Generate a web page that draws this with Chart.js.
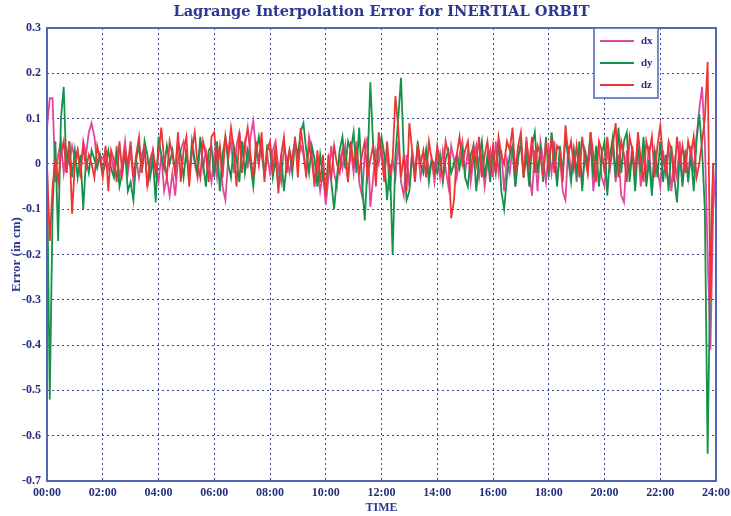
<!DOCTYPE html>
<html>
<head>
<meta charset="utf-8">
<script src="https://cdn.jsdelivr.net/npm/chart.js@4.4.1/dist/chart.umd.min.js"></script>
<style>
  html, body { margin: 0; padding: 0; background: #ffffff; }
  #wrap { width: 731px; height: 516px; }
</style>
</head>
<body>
<div id="wrap"><canvas id="c" width="731" height="516"></canvas></div>
<script>
// ---------------- data (values in cm, sampled every 0.1 h from 00:00 to 24:00) ----------------
const titleText = 'Lagrange Interpolation Error for INERTIAL ORBIT';
const seriesNames = ['dx', 'dy', 'dz'];
const xTickHours = [0, 2, 4, 6, 8, 10, 12, 14, 16, 18, 20, 22, 24];
const yTickValues = [0.3, 0.2, 0.1, 0, -0.1, -0.2, -0.3, -0.4, -0.5, -0.6, -0.7];

const timeHours = [];
for (let i = 0; i <= 240; i++) timeHours.push(i / 10);

const dxValues = [
  0.08, 0.145, 0.145, -0.04, 0.02, 0.05, -0.02, 0.03, 0.00, 0.04,
  0.01, 0.03, -0.03, 0.05, 0.02, 0.07, 0.09, 0.06, 0.00, 0.02,
  0.01, 0.03, -0.01, 0.02, -0.02, 0.04, -0.03, 0.00, 0.05, -0.02,
  0.03, -0.04, 0.01, -0.03, 0.02, 0.04, -0.05, -0.02, 0.03, -0.01,
  -0.04, 0.02, -0.06, -0.03, -0.07, -0.02, -0.07, 0.01, 0.03, 0.05,
  0.02, -0.02, 0.04, 0.00, -0.03, 0.05, -0.01, 0.03, 0.00, -0.04,
  0.02, -0.03, 0.04, -0.05, -0.08, 0.01, 0.05, -0.02, 0.04, 0.07,
  0.02, 0.05, -0.01, 0.06, 0.095, 0.03, 0.00, 0.05, -0.03, 0.02,
  -0.02, 0.03, 0.05, -0.01, -0.04, 0.04, 0.01, -0.02, 0.02, 0.05,
  0.00, 0.04, 0.02, -0.03, 0.06, 0.03, -0.04, -0.01, -0.06, -0.02,
  -0.09, -0.03, 0.04, -0.02, -0.05, 0.02, -0.01, 0.04, -0.03, 0.03,
  -0.02, 0.05, -0.04, -0.07, 0.02, 0.06, -0.095, -0.03, 0.03, 0.00,
  0.04, -0.02, 0.03, -0.06, 0.01, -0.03, 0.05, -0.04, -0.07, 0.02,
  -0.05, 0.03, -0.02, 0.04, -0.03, 0.00, 0.03, -0.02, 0.01, -0.04,
  0.02, -0.03, 0.03, -0.01, -0.05, 0.04, 0.01, -0.03, 0.02, 0.05,
  -0.02, 0.03, -0.04, 0.01, 0.04, -0.03, 0.02, -0.05, 0.00, 0.03,
  -0.03, 0.05, -0.02, 0.03, -0.06, 0.01, -0.02, 0.04, -0.05, 0.02,
  0.04, -0.03, 0.06, -0.02, -0.07, 0.03, -0.06, 0.05, 0.01, -0.04,
  0.03, -0.02, 0.05, -0.04, 0.02, -0.06, -0.08, 0.04, -0.02, 0.03,
  -0.04, 0.02, -0.05, 0.03, -0.02, 0.05, -0.06, 0.01, 0.04, -0.03,
  -0.05, 0.03, -0.01, 0.04, -0.04, 0.02, -0.07, -0.085, 0.03, -0.02,
  0.04, -0.03, 0.05, -0.05, 0.02, -0.02, 0.04, -0.06, 0.03, -0.01,
  -0.05, 0.03, -0.02, 0.04, -0.06, 0.01, -0.03, 0.05, -0.04, 0.02,
  -0.03, 0.04, -0.02, 0.06, 0.12, 0.17, 0.05, -0.20, -0.41, -0.10,
  0.00
];

const dyValues = [
  0.00, -0.52, -0.10, 0.05, -0.17, 0.10, 0.17, -0.02, 0.05, -0.03,
  0.03, -0.03, 0.02, -0.10, 0.01, -0.02, 0.03, 0.01, -0.01, 0.02,
  -0.02, 0.00, 0.03, -0.01, -0.03, 0.02, -0.05, -0.02, 0.03, -0.06,
  -0.04, -0.08, 0.01, 0.04, -0.02, 0.05, 0.02, -0.03, 0.01, -0.085,
  0.06, 0.02, -0.01, 0.04, 0.00, 0.03, -0.02, 0.05, 0.02, -0.03,
  0.03, -0.04, 0.05, 0.01, -0.02, 0.06, 0.00, -0.05, 0.03, 0.04,
  -0.03, 0.05, -0.06, 0.02, 0.06, 0.00, -0.03, 0.04, 0.01, -0.04,
  0.05, -0.02, 0.03, 0.00, -0.05, 0.02, 0.06, 0.02, -0.02, 0.04,
  0.03, -0.03, 0.01, -0.05, 0.02, -0.06, 0.00, 0.03, -0.02, 0.05,
  0.02, 0.07, 0.09, 0.03, -0.02, 0.04, 0.01, -0.05, 0.02, -0.03,
  -0.06, 0.02, -0.04, -0.10, -0.03, 0.03, 0.06, -0.01, 0.05, 0.03,
  0.07, -0.02, 0.08, -0.04, -0.125, 0.00, 0.18, 0.04, -0.01, 0.03,
  0.06, 0.02, -0.08, 0.00, -0.20, 0.02, 0.10, 0.19, 0.02, -0.08,
  -0.06, 0.02, -0.03, 0.05, 0.00, -0.02, 0.03, -0.04, 0.01, 0.00,
  -0.02, 0.02, -0.04, 0.01, 0.03, -0.02, 0.00, 0.02, -0.01, 0.03,
  -0.03, -0.05, 0.02, 0.04, -0.06, 0.01, 0.05, -0.03, 0.02, -0.04,
  0.03, -0.02, 0.05, -0.06, -0.10, -0.03, 0.02, 0.04, -0.05, 0.01,
  0.05, -0.03, 0.02, -0.05, 0.04, 0.07, -0.02, 0.03, -0.04, 0.06,
  -0.03, 0.07, 0.02, -0.05, 0.04, -0.02, 0.06, 0.01, -0.04, 0.03,
  -0.02, 0.05, -0.06, 0.03, 0.00, 0.07, -0.03, 0.04, -0.05, 0.02,
  0.05, -0.07, 0.02, 0.06, -0.03, 0.08, -0.02, 0.05, 0.07, -0.04,
  0.03, -0.06, 0.04, -0.02, 0.06, -0.05, 0.01, -0.07, 0.03, -0.03,
  0.05, -0.04, 0.02, -0.06, 0.04, -0.03, -0.085, 0.02, -0.05, 0.03,
  -0.04, 0.02, -0.06, 0.05, 0.11, 0.03, -0.10, -0.64, -0.20, 0.00,
  0.00
];

const dzValues = [
  0.00, -0.17, -0.05, 0.01, -0.04, 0.02, 0.05, -0.02, 0.05, -0.11,
  0.00, 0.03, -0.02, 0.04, -0.01, 0.02, 0.00, -0.03, 0.04, 0.01,
  -0.03, 0.04, -0.06, 0.03, 0.01, -0.04, 0.05, -0.02, 0.03, 0.00,
  0.05, -0.03, 0.02, 0.06, -0.02, 0.04, -0.05, 0.01, 0.03, -0.02,
  0.02, 0.08, 0.01, -0.03, 0.05, 0.02, -0.02, 0.07, -0.04, 0.03,
  0.06, -0.05, 0.03, 0.07, 0.00, -0.03, 0.05, 0.02, -0.04, 0.06,
  0.07, 0.00, 0.04, -0.03, 0.06, 0.02, 0.08, 0.03, -0.05, 0.07,
  -0.02, 0.04, 0.08, 0.02, -0.03, 0.05, 0.00, 0.07, -0.04, 0.03,
  0.05, -0.01, 0.04, -0.065, 0.02, 0.06, -0.02, 0.03, 0.00, 0.06,
  -0.03, 0.08, 0.03, -0.02, 0.04, 0.01, -0.05, 0.03, -0.04, 0.02,
  -0.07, 0.01, -0.03, 0.04, 0.00, -0.02, 0.03, 0.01, -0.04, 0.05,
  0.00, 0.03, -0.02, 0.02, 0.05, -0.03, 0.01, 0.04, -0.05, 0.07,
  0.02, -0.04, 0.05, -0.02, 0.01, 0.15, 0.08, -0.03, 0.02, -0.06,
  0.09, 0.03, -0.04, 0.04, 0.00, 0.03, -0.03, 0.05, 0.01, -0.02,
  0.04, 0.00, -0.03, 0.05, 0.02, -0.12, -0.08, 0.02, 0.06, 0.00,
  0.03, 0.05, -0.02, 0.04, 0.00, 0.06, -0.03, 0.02, 0.05, -0.01,
  0.04, -0.02, 0.06, 0.02, 0.00, 0.05, 0.03, 0.08, -0.02, 0.04,
  0.07, -0.03, 0.05, 0.00, 0.06, -0.02, 0.04, 0.02, -0.03, 0.05,
  0.00, 0.06, -0.02, 0.04, 0.03, -0.04, 0.085, 0.02, 0.05, -0.01,
  0.04, -0.03, 0.06, 0.01, -0.02, 0.07, 0.02, -0.04, 0.05, 0.03,
  -0.02, 0.06, 0.00, 0.04, 0.09, -0.03, 0.05, 0.02, -0.04, 0.06,
  0.03, -0.02, 0.07, 0.01, -0.04, 0.05, 0.02, 0.06, -0.03, 0.04,
  0.085, 0.01, -0.02, 0.05, 0.03, -0.04, 0.06, 0.00, 0.04, -0.02,
  0.05, 0.02, 0.06, -0.03, 0.00, 0.05, 0.10, 0.225, -0.30, 0.00,
  0.00
];

// ---------------- styling ----------------
const seriesColors = ['#e2479d', '#13924b', '#ec3636'];
const navy = '#24307c';
const gridColor = '#3b4794';
const boxColor = '#5464b6';

function toPoints(vals) { return vals.map((v, i) => ({ x: timeHours[i], y: v })); }

const boxPlugin = {
  id: 'boxAndLegend',
  afterDatasetsDraw(chart) {
    const { ctx, chartArea: a } = chart;
    ctx.save();
    // axes box
    ctx.strokeStyle = boxColor;
    ctx.lineWidth = 2;
    ctx.strokeRect(a.left, a.top, a.right - a.left, a.bottom - a.top);
    // legend box
    const lx = 594, ly = a.top, lw = 64, lh = 70;
    ctx.fillStyle = '#ffffff';
    ctx.fillRect(lx, ly, lw, lh);
    ctx.strokeStyle = boxColor;
    ctx.lineWidth = 1.5;
    ctx.strokeRect(lx, ly, lw, lh);
    ctx.font = 'bold 11px "Liberation Serif"';
    ctx.textBaseline = 'middle';
    chart.data.datasets.forEach((ds, i) => {
      const y = ly + 13 + i * 22;
      ctx.strokeStyle = ds.borderColor;
      ctx.lineWidth = 2;
      ctx.beginPath();
      ctx.moveTo(lx + 6, y);
      ctx.lineTo(lx + 40, y);
      ctx.stroke();
      ctx.fillStyle = navy;
      ctx.fillText(ds.label, lx + 47, y);
    });
    ctx.restore();
  }
};

new Chart(document.getElementById('c'), {
  type: 'line',
  data: {
    datasets: [
      { label: seriesNames[0], data: toPoints(dxValues), borderColor: seriesColors[0], order: 3 },
      { label: seriesNames[1], data: toPoints(dyValues), borderColor: seriesColors[1], order: 2 },
      { label: seriesNames[2], data: toPoints(dzValues), borderColor: seriesColors[2], order: 1 }
    ]
  },
  options: {
    responsive: false,
    animation: false,
    devicePixelRatio: 1,
    layout: { padding: { left: 0, right: 15, top: 0, bottom: 0 } },
    elements: {
      line: { borderWidth: 1.8, tension: 0 },
      point: { radius: 0 }
    },
    plugins: {
      legend: { display: false },
      tooltip: { enabled: false },
      title: {
        display: true,
        fullSize: false,
        text: titleText,
        color: '#2a3892',
        font: { family: '"DejaVu Serif"', size: 14.6, weight: 'bold' },
        padding: { top: 3, bottom: 7.5 }
      }
    },
    scales: {
      x: {
        type: 'linear',
        min: 0, max: 24,
        afterFit(s) { s.height = 35; s.paddingRight = 0; s.paddingLeft = 0; },
        afterBuildTicks(s) { s.ticks = xTickHours.map(v => ({ value: v })); },
        ticks: {
          color: navy,
          padding: 5,
          maxRotation: 0,
          autoSkip: false,
          font: { family: '"Liberation Serif"', size: 12, weight: 'bold' },
          callback: v => String(v).padStart(2, '0') + ':00'
        },
        grid: { color: gridColor, lineWidth: 1, drawTicks: false },
        border: { display: false, dash: [2, 3] },
        title: {
          display: true, text: 'TIME', color: '#2a3892',
          font: { family: '"Liberation Serif"', size: 12, weight: 'bold' },
          padding: { top: 0, bottom: 1 }
        }
      },
      y: {
        type: 'linear',
        min: -0.7, max: 0.3,
        afterFit(s) { s.width = 47; },
        afterBuildTicks(s) { s.ticks = yTickValues.map(v => ({ value: v })); },
        ticks: {
          color: navy,
          padding: 6,
          font: { family: '"Liberation Serif"', size: 12, weight: 'bold' },
          callback: v => (Math.abs(v) < 1e-9 ? '0' : (Math.round(v * 10) / 10).toString())
        },
        grid: { color: gridColor, lineWidth: 1, drawTicks: false },
        border: { display: false, dash: [2, 3] },
        title: {
          display: true, text: 'Error (in cm)', color: '#2a3892',
          font: { family: '"Liberation Serif"', size: 13, weight: 'bold' },
          padding: { top: 9, bottom: 0 }
        }
      }
    }
  },
  plugins: [boxPlugin]
});
</script>
</body>
</html>
